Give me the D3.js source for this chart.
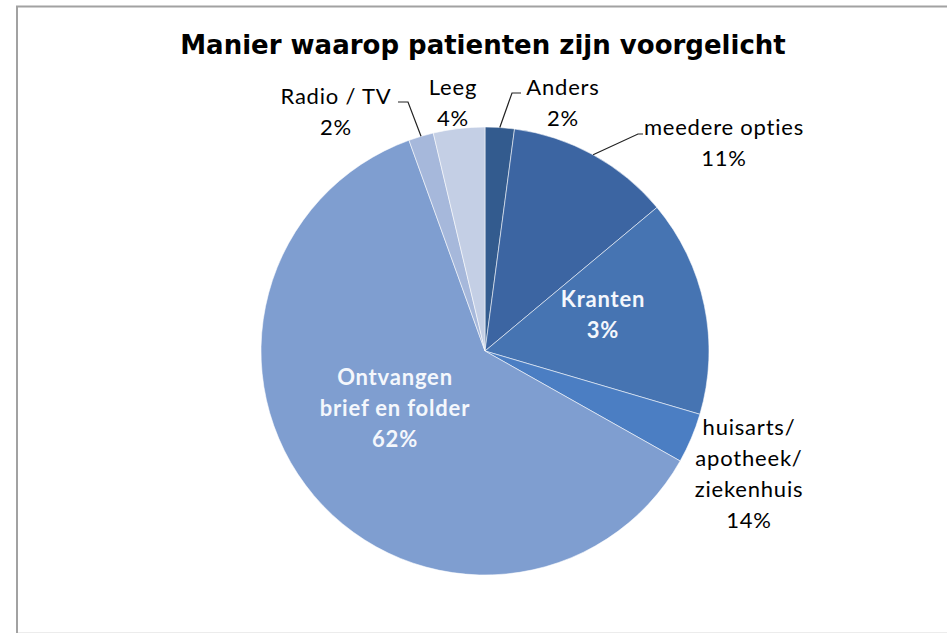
<!DOCTYPE html>
<html>
<head lang="nl">
    <meta charset="UTF-8">
    <title>Manier waarop patienten zijn voorgelicht</title>
    <script src="https://cdnjs.cloudflare.com/ajax/libs/d3/7.8.5/d3.min.js" charset="utf-8"></script>
</head>
<body style="margin: 0; background: white">
<div id="chart"></div>
<script>

// slices clockwise from 12 o'clock
var categories = ['Anders', 'meedere opties', 'Kranten', 'huisarts/ apotheek/ ziekenhuis',
                  'Ontvangen brief en folder', 'Radio / TV', 'Leeg'];
var values = [2.1, 11.8, 15.6, 3.6, 61.2, 1.8, 3.7];          // slice size as drawn
var labelPct = ['2%', '11%', '3%', '14%', '62%', '2%', '4%'];  // percentages as printed
var labelLines = [['Anders'], ['meedere opties'], ['Kranten'], ['huisarts/', 'apotheek/', 'ziekenhuis'],
                  ['Ontvangen', 'brief en folder'], ['Radio / TV'], ['Leeg']];
var colors = ['#335b8e', '#3c65a2', '#4674b2', '#4b7ec3', '#7f9ed0', '#a6b8db', '#c4cfe5'];

var width = 947, height = 636;
var cx = 485, cy = 351, r = 224;

// label placement: x centre, first baseline, inside?, leader end point
var labelPos = [
    {x: 563, y: 95, inside: false, lead: [512, 93], stub: [521, 93]},
    {x: 724, y: 135, inside: false, lead: [638, 134], stub: [643, 134]},
    {x: 603, y: 307, inside: true},
    {x: 749, y: 435, inside: false},
    {x: 395, y: 385, inside: true},
    {x: 336, y: 104, inside: false, lead: [408, 102], stub: [398, 102]},
    {x: 453, y: 95, inside: false}
];

var svg = d3.select('#chart').append('svg')
    .attr('width', width)
    .attr('height', height);

// frame
svg.append('path')
    .attr('d', 'M17,' + (height - 3) + 'V6.5H' + width)
    .attr('fill', 'none')
    .attr('stroke', '#a2a2a2')
    .attr('stroke-width', 2);
svg.append('line')
    .attr('x1', 18).attr('x2', width)
    .attr('y1', height - 3.5).attr('y2', height - 3.5)
    .attr('stroke', '#ececec');

svg.append('text')
    .attr('x', 483)
    .attr('y', 54)
    .attr('text-anchor', 'middle')
    .style('font-family', 'DejaVu Sans')
    .style('font-weight', 'bold')
    .style('font-size', '26px')
    .attr('fill', '#000')
    .text('Manier waarop patienten zijn voorgelicht');

var pie = d3.pie().sort(null).value(function(d) { return d; });
var arc = d3.arc().innerRadius(0).outerRadius(r);
var arcs = pie(values);

var g = svg.append('g').attr('transform', 'translate(' + cx + ',' + cy + ')');

g.selectAll('path.slice')
    .data(arcs)
    .enter().append('path')
    .attr('class', 'slice')
    .attr('d', arc)
    .attr('fill', function(d, i) { return colors[i]; })
    .attr('stroke', 'rgba(255,255,255,0.55)')
    .attr('stroke-width', 1);

// leader lines from outer edge at mid angle
arcs.forEach(function(d, i) {
    var p = labelPos[i];
    if (!p.lead) return;
    var a = (d.startAngle + d.endAngle) / 2;
    var x0 = cx + r * Math.sin(a), y0 = cy - r * Math.cos(a);
    svg.append('path')
        .attr('d', d3.line()([[x0, y0], p.lead, p.stub]))
        .attr('fill', 'none')
        .attr('stroke', '#222')
        .attr('stroke-width', 1.2);
});

var lineH = 31;
arcs.forEach(function(d, i) {
    var p = labelPos[i];
    var lines = labelLines[i].concat([labelPct[i]]);
    var t = svg.append('text')
        .attr('text-anchor', 'middle')
        .style('font-family', 'Lato')
        .style('font-size', '22px')
        .style('letter-spacing', '0.8px')
        .style('font-weight', p.inside ? 'bold' : 'normal')
        .attr('fill', p.inside ? '#f4f7fc' : '#000');
    lines.forEach(function(s, k) {
        t.append('tspan')
            .attr('x', p.x)
            .attr('y', p.y + k * lineH)
            .text(s);
    });
});

</script>
</body>
</html>
